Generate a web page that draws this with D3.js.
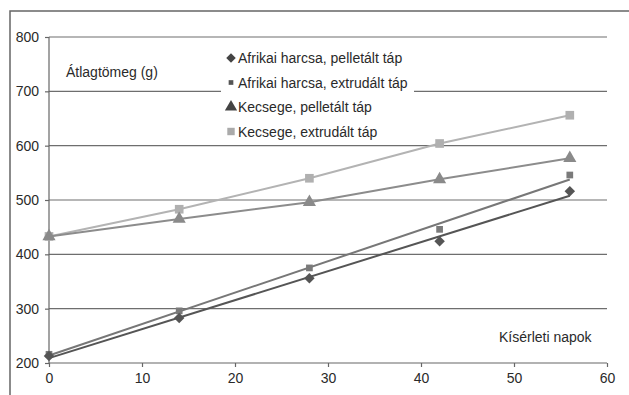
<!DOCTYPE html>
<html><head><meta charset="utf-8">
<script src="https://cdn.jsdelivr.net/npm/d3@7"></script>
<style>body{margin:0;background:#fff;}svg{display:block;font-family:"Liberation Sans",Arial,sans-serif;}</style>
</head><body><svg id="c" width="629" height="395"></svg>
<script>
const days = [0, 14, 28, 42, 56];
const afrikaiPellet = [213, 283, 356, 424, 516];
const afrikaiExtrud = [216, 296, 375, 446, 546];
const kecsegePellet = [433, 465, 496, 538, 577];
const kecsegeExtrud = [433, 483, 540, 604, 656];
const yTicks = [200, 300, 400, 500, 600, 700, 800];
const xTicks = [0, 10, 20, 30, 40, 50, 60];
const seriesNames = ["Afrikai harcsa, pelletált táp", "Afrikai harcsa, extrudált táp", "Kecsege, pelletált táp", "Kecsege, extrudált táp"];
const yTitle = "Átlagtömeg (g)";
const xTitle = "Kísérleti napok";

const FONT = "Liberation Sans, Arial, sans-serif";
const svg = d3.select("#c");
const x = d3.scaleLinear().domain([0, 60]).range([49, 607]);
const y = d3.scaleLinear().domain([200, 800]).range([363, 37]);

// frame
svg.append("rect").attr("x", 10).attr("y", 11).attr("width", 640).attr("height", 420)
  .attr("fill", "none").attr("stroke", "#666").attr("stroke-width", 1.5);

// gridlines
svg.append("g").selectAll("line").data(yTicks.filter(d => d > 200)).join("line")
  .attr("x1", x(0)).attr("x2", x(60)).attr("y1", d => y(d)).attr("y2", d => y(d))
  .attr("stroke", "#6e6e6e").attr("stroke-width", 1.2);

// axes
const ya = svg.append("g").attr("transform", `translate(${x(0)},0)`)
  .call(d3.axisLeft(y).tickValues(yTicks).tickSize(4).tickPadding(6));
const xa = svg.append("g").attr("transform", `translate(0,${y(200)})`)
  .call(d3.axisBottom(x).tickValues(xTicks).tickSize(4).tickPadding(6));
[ya, xa].forEach(a => {
  a.selectAll("path,line").attr("stroke", "#666").attr("stroke-width", 1.2);
  a.selectAll("text").attr("font-size", 14).attr("fill", "#2a2a2a").attr("font-family", FONT);
});
ya.select(".domain").attr("d", `M0,${y(800)}V${y(200)}`);
xa.select(".domain").attr("d", `M${x(0)},0H${x(60)}`);

// regression helper for trend lines
function fit(xs, ys) {
  const mx = d3.mean(xs), my = d3.mean(ys);
  const b = d3.sum(xs, (v, i) => (v - mx) * (ys[i] - my)) / d3.sum(xs, v => (v - mx) ** 2);
  return v => my + b * (v - mx);
}

const series = [
  {vals: kecsegeExtrud, color: "#b3b3b3", mcolor: "#b0b0b0", sym: d3.symbolSquare, size: 75, rot: 0, trend: false},
  {vals: kecsegePellet, color: "#8c8c8c", mcolor: "#8a8a8a", sym: d3.symbolTriangle, size: 75, rot: 0, trend: false},
  {vals: afrikaiExtrud, color: "#777", mcolor: "#7a7a7a", sym: d3.symbolSquare, size: 45, rot: 0, trend: true},
  {vals: afrikaiPellet, color: "#555", mcolor: "#555", sym: d3.symbolSquare, size: 55, rot: 45, trend: true}
];

const line = d3.line().x(d => x(d[0])).y(d => y(d[1]));
series.forEach(s => {
  let pts;
  if (s.trend) {
    const f = fit(days, s.vals);
    pts = [[0, f(0)], [56, f(56)]];
  } else {
    pts = days.map((d, i) => [d, s.vals[i]]);
  }
  svg.append("path").attr("d", line(pts)).attr("fill", "none")
    .attr("stroke", s.color).attr("stroke-width", 2);
  svg.append("g").selectAll("path").data(days.map((d, i) => [d, s.vals[i]])).join("path")
    .attr("transform", d => `translate(${x(d[0])},${y(d[1])}) rotate(${s.rot})`)
    .attr("d", d3.symbol().type(s.sym).size(s.size)).attr("fill", s.mcolor);
});

// legend
const lg = svg.append("g");
lg.append("rect").attr("x", 221).attr("y", 44).attr("width", 193).attr("height", 98).attr("fill", "#fff");
const legendItems = [
  {name: seriesNames[0], sym: d3.symbolSquare, size: 45, rot: 45, color: "#444"},
  {name: seriesNames[1], sym: d3.symbolSquare, size: 22, rot: 0, color: "#555"},
  {name: seriesNames[2], sym: d3.symbolTriangle, size: 65, rot: 0, color: "#444"},
  {name: seriesNames[3], sym: d3.symbolSquare, size: 55, rot: 0, color: "#aaa"}
];
legendItems.forEach((it, i) => {
  const yy = 58 + i * 24.5;
  lg.append("path").attr("transform", `translate(${231},${yy}) rotate(${it.rot})`)
    .attr("d", d3.symbol().type(it.sym).size(it.size)).attr("fill", it.color);
  lg.append("text").attr("x", 238).attr("y", yy + 5).attr("font-size", 14).attr("fill", "#2a2a2a")
    .attr("font-family", FONT).text(it.name);
});

// titles
svg.append("text").attr("x", 66).attr("y", 77).attr("font-size", 14).attr("fill", "#2a2a2a").attr("font-family", FONT).text(yTitle);
svg.append("text").attr("x", 499).attr("y", 342).attr("font-size", 14).attr("fill", "#2a2a2a").attr("font-family", FONT).text(xTitle);
</script></body></html>
